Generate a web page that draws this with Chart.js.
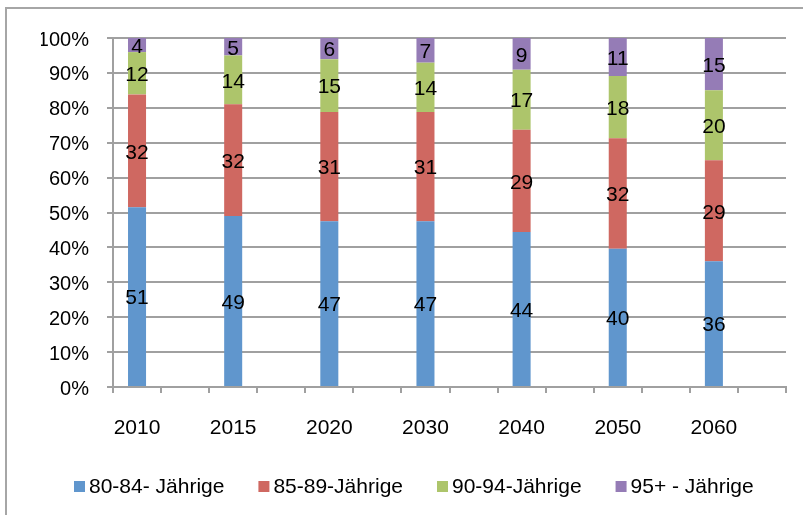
<!DOCTYPE html>
<html>
<head>
<meta charset="utf-8">
<script src="https://cdn.jsdelivr.net/npm/chart.js@4/dist/chart.umd.min.js"></script>
<style>
  html, body { margin: 0; padding: 0; background: #fff; }
  #wrap { position: relative; width: 803px; height: 515px; overflow: hidden; }
  #frame { position: absolute; left: 5px; top: 7px; width: 810px; height: 520px; border: 2px solid #a6a6a6; box-sizing: border-box; }
  #chart { position: absolute; left: 0; top: 0; }
</style>
</head>
<body>
<div id="wrap">
  <div id="frame"></div>
  <canvas id="chart" width="803" height="515"></canvas>
</div>
<script>
const years = ["2010", "2015", "2020", "2030", "2040", "2050", "2060"];
const seriesNames = ["80-84- Jährige", "85-89-Jährige", "90-94-Jährige", "95+ - Jährige"];
const age80 = [51, 49, 47, 47, 44, 40, 36];
const age85 = [32, 32, 31, 31, 29, 32, 29];
const age90 = [12, 14, 15, 14, 17, 18, 20];
const age95 = [4, 5, 6, 7, 9, 11, 15];
const yTicks = ["0%", "10%", "20%", "30%", "40%", "50%", "60%", "70%", "80%", "90%", "100%"];
const colors = ["#6096cd", "#cf6861", "#adc56b", "#957cb6"];

const FONT = "'Liberation Sans', Arial, sans-serif";

// excel puts an empty slot after every year, so interleave blanks
const labels = [];
years.forEach(y => { labels.push(y); labels.push(""); });

const allSeries = [age80, age85, age90, age95];
const totals = years.map((_, i) => allSeries.reduce((s, arr) => s + arr[i], 0));

function toSlots(arr, asPct) {
  const out = [];
  arr.forEach((v, i) => {
    out.push(asPct ? v / totals[i] * 100 : v);
    out.push(null);
  });
  return out;
}

const datasets = allSeries.map((arr, k) => ({
  label: seriesNames[k],
  data: toSlots(arr, true),
  raw: toSlots(arr, false),
  backgroundColor: colors[k],
  borderWidth: 0,
  barPercentage: 1,
  categoryPercentage: 0.375
}));

// draw the numbers in the middle of each segment
const valueLabels = {
  id: "valueLabels",
  afterDatasetsDraw(chart) {
    const ctx = chart.ctx;
    ctx.save();
    ctx.font = "21px " + FONT;
    ctx.fillStyle = "#000";
    ctx.textAlign = "center";
    ctx.textBaseline = "middle";
    chart.data.datasets.forEach((ds, di) => {
      const meta = chart.getDatasetMeta(di);
      meta.data.forEach((bar, i) => {
        const v = ds.raw[i];
        if (v === null || v === undefined) return;
        ctx.fillText(String(v), bar.x, (bar.y + bar.base) / 2 + 2);
      });
    });
    ctx.restore();
  }
};

// one-row legend like excel's, the built-in one wraps at this width
const rowLegend = {
  id: "rowLegend",
  afterDraw(chart) {
    const ctx = chart.ctx;
    ctx.save();
    ctx.font = "21px " + FONT;
    ctx.textBaseline = "middle";
    ctx.textAlign = "left";
    let x = 74;
    const yMid = 487;
    chart.data.datasets.forEach((ds) => {
      ctx.fillStyle = ds.backgroundColor;
      ctx.fillRect(x, yMid - 6, 11, 11);
      ctx.fillStyle = "#000";
      ctx.fillText(ds.label, x + 15, yMid);
      x += 15 + ctx.measureText(ds.label).width + 34;
    });
    ctx.restore();
  }
};

const gridColor = "#a0a0a0";
const ctx = document.getElementById("chart").getContext("2d");

new Chart(ctx, {
  type: "bar",
  data: { labels: labels, datasets: datasets },
  plugins: [valueLabels, rowLegend],
  options: {
    responsive: false,
    animation: false,
    layout: { padding: { left: 41, right: 17, top: 38, bottom: 73 } },
    plugins: {
      tooltip: { enabled: false },
      legend: { display: false }
    },
    scales: {
      x: {
        stacked: true,
        afterFit(scale) { scale.height = 55; },
        grid: {
          offset: true,
          drawOnChartArea: false,
          drawTicks: true,
          tickLength: 6,
          color: gridColor,
          lineWidth: 2
        },
        border: { display: true, color: gridColor, width: 2 },
        ticks: {
          autoSkip: false,
          maxRotation: 0,
          padding: 23,
          color: "#000",
          font: { family: FONT, size: 21 }
        }
      },
      y: {
        stacked: true,
        min: 0,
        max: 100,
        afterFit(scale) { scale.width = 72; },
        grid: {
          color: gridColor,
          lineWidth: 2,
          tickLength: 6
        },
        border: { display: true, color: gridColor, width: 2 },
        ticks: {
          stepSize: 10,
          padding: 18,
          labelOffset: 2,
          color: "#000",
          font: { family: FONT, size: 20 },
          callback: (v) => yTicks[Math.round(v / 10)]
        }
      }
    }
  }
});
</script>
</body>
</html>
